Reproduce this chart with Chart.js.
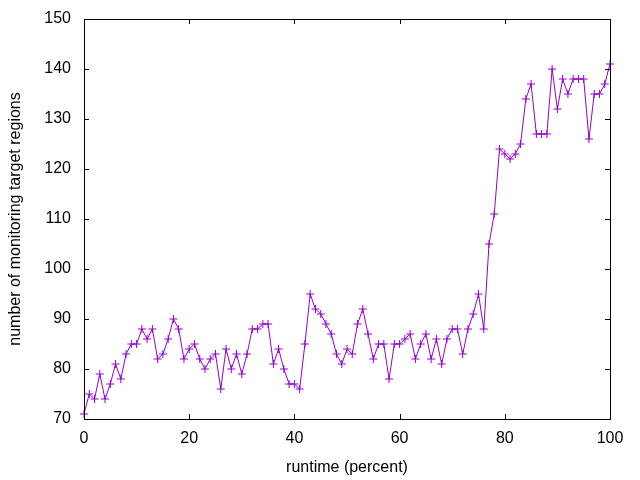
<!DOCTYPE html>
<html>
<head>
<meta charset="utf-8">
<script src="https://cdn.jsdelivr.net/npm/chart.js@4/dist/chart.umd.min.js"></script>
<style>
  html, body { margin: 0; padding: 0; background: #fff; }
  #wrap { width: 640px; height: 480px; }
</style>
</head>
<body>
<div id="wrap"><canvas id="grafica" width="640" height="480"></canvas></div>
<script>
// --- datos ---
const runtimePercent = [
  0, 1, 2, 3, 4, 5, 6, 7, 8, 9, 10, 11, 12, 13, 14, 15, 16, 17, 18, 19,
  20, 21, 22, 23, 24, 25, 26, 27, 28, 29, 30, 31, 32, 33, 34, 35, 36, 37, 38, 39,
  40, 41, 42, 43, 44, 45, 46, 47, 48, 49, 50, 51, 52, 53, 54, 55, 56, 57, 58, 59,
  60, 61, 62, 63, 64, 65, 66, 67, 68, 69, 70, 71, 72, 73, 74, 75, 76, 77, 78, 79,
  80, 81, 82, 83, 84, 85, 86, 87, 88, 89, 90, 91, 92, 93, 94, 95, 96, 97, 98, 99, 100
];
const targetRegions = [
  71, 75, 74, 79, 74, 77, 81, 78, 83, 85, 85, 88, 86, 88, 82, 83, 86, 90, 88, 82,
  84, 85, 82, 80, 82, 83, 76, 84, 80, 83, 79, 83, 88, 88, 89, 89, 81, 84, 80, 77,
  77, 76, 85, 95, 92, 91, 89, 87, 83, 81, 84, 83, 89, 92, 87, 82, 85, 85, 78, 85,
  85, 86, 87, 82, 85, 87, 82, 86, 81, 86, 88, 88, 83, 88, 91, 95, 88, 105, 111, 124,
  123, 122, 123, 125, 134, 137, 127, 127, 127, 140, 132, 138, 135, 138, 138, 138, 126, 135, 135, 137, 141
];
const xTicks = [0, 20, 40, 60, 80, 100];
const yTicks = [70, 80, 90, 100, 110, 120, 130, 140, 150];

const colorLinea = '#9400D3';
const fuente = { family: "'Liberation Sans', Arial, sans-serif", size: 16 };

// borde y marcas hacia adentro (estilo gnuplot)
const bordeGnuplot = {
  id: 'bordeGnuplot',
  afterDraw(chart) {
    const { ctx, chartArea: a, scales } = chart;
    const largo = 5;
    ctx.save();
    ctx.strokeStyle = '#000';
    ctx.lineWidth = 1;
    ctx.beginPath();
    xTicks.forEach(v => {
      const px = Math.round(scales.x.getPixelForValue(v)) + 0.5;
      ctx.moveTo(px, a.bottom); ctx.lineTo(px, a.bottom - largo);
      ctx.moveTo(px, a.top); ctx.lineTo(px, a.top + largo);
    });
    yTicks.forEach(v => {
      const py = Math.round(scales.y.getPixelForValue(v)) + 0.5;
      ctx.moveTo(a.left, py); ctx.lineTo(a.left + largo, py);
      ctx.moveTo(a.right, py); ctx.lineTo(a.right - largo, py);
    });
    ctx.stroke();
    ctx.strokeRect(Math.round(a.left) + 0.5, Math.round(a.top) + 0.5,
                   Math.round(a.right - a.left), Math.round(a.bottom - a.top));
    ctx.restore();
  }
};

new Chart(document.getElementById('grafica'), {
  type: 'line',
  data: {
    datasets: [{
      data: runtimePercent.map((x, i) => ({ x: x, y: targetRegions[i] })),
      borderColor: colorLinea,
      backgroundColor: colorLinea,
      borderWidth: 1,
      pointStyle: 'cross',
      pointRadius: 4,
      pointBorderWidth: 1,
      pointBorderColor: colorLinea,
      tension: 0,
      clip: false
    }]
  },
  options: {
    responsive: false,
    animation: false,
    devicePixelRatio: 1,
    layout: { padding: { top: 19, right: 30, left: 0, bottom: 0 } },
    plugins: { legend: { display: false }, tooltip: { enabled: false } },
    scales: {
      x: {
        type: 'linear',
        min: 0, max: 100,
        afterBuildTicks(s) { s.ticks = xTicks.map(v => ({ value: v })); },
        afterFit(s) { s.height = 61; },
        grid: { display: false, drawTicks: false },
        border: { display: false },
        ticks: { color: '#000', font: fuente, padding: 10, maxRotation: 0 },
        title: { display: true, text: 'runtime (percent)', color: '#000', font: fuente,
                 padding: { top: 0, bottom: 3 } }
      },
      y: {
        min: 70, max: 150,
        afterBuildTicks(s) { s.ticks = yTicks.map(v => ({ value: v })); },
        afterFit(s) { s.width = 84; s.paddingTop = 0; s.paddingBottom = 0; },
        grid: { display: false, drawTicks: false },
        border: { display: false },
        ticks: { color: '#000', font: fuente, padding: 13 },
        title: { display: true, text: 'number of monitoring target regions', color: '#000', font: fuente,
                 padding: { top: 6, bottom: 0 } }
      }
    }
  },
  plugins: [bordeGnuplot]
});
</script>
</body>
</html>
